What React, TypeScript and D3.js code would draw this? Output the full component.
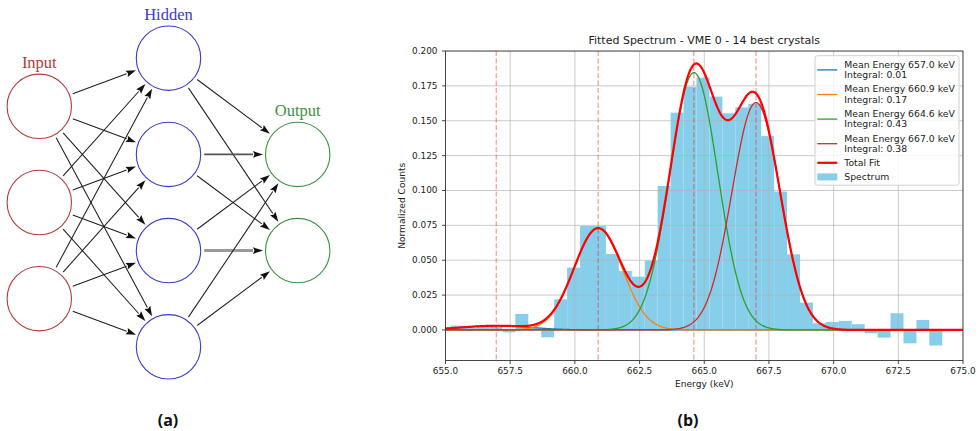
import React from 'react';
import * as d3 from 'd3';

const W = 978;
const H = 431;

// ---------- (a) neural network diagram data ----------
const layerNames = ['Input', 'Hidden', 'Output'];
const layerSizes = [3, 4, 2];
const layerColors = ['#b53b3b', '#3b3bc6', '#3a9442'];

// ---------- (b) spectrum data ----------
const binStart = 655.2;
const binWidth = 0.5;
const spectrum = [
  0.0031, 0.0015, 0.003, 0.003, -0.0017, 0.0115, 0.0017, -0.0053, 0.022, 0.0447,
  0.0746, 0.0746, 0.0545, 0.0423, 0.0382, 0.0497, 0.1032, 0.1558, 0.1744, 0.1809,
  0.1673, 0.1553, 0.1596, 0.162, 0.139, 0.0992, 0.0542, 0.0196, 0.0048, 0.0057,
  0.0065, 0.0041, -0.0024, -0.0055, 0.012, -0.0096, 0.0072, -0.0112,
];
const peakMeans = [656.96, 660.9, 664.6, 667.0];
const peakIntegrals = [0.01, 0.17, 0.43, 0.38];
const peakSigmas = [1.33, 0.93, 0.93, 0.93];
const peakColors = ['#1f77b4', '#ff7f0e', '#2ca02c', '#d62728'];
const xTicks = [655, 657.5, 660, 662.5, 665, 667.5, 670, 672.5, 675];
const yTicks = [0, 0.025, 0.05, 0.075, 0.1, 0.125, 0.15, 0.175, 0.2];
const titleText = 'Fitted Spectrum - VME 0 - 14 best crystals';
const xLabel = 'Energy (keV)';
const yLabel = 'Normalized Counts';

const SANS = 'DejaVu Sans, sans-serif';
const SERIF = 'Liberation Serif, serif';

function gauss(x: number, i: number) {
  const s = peakSigmas[i];
  const a = peakIntegrals[i] / (s * Math.sqrt(2 * Math.PI));
  return a * Math.exp(-((x - peakMeans[i]) ** 2) / (2 * s * s));
}

function Network() {
  const xL = d3.scaleLinear().domain([0, 2]).range([39.3, 297.7]);
  const r = 32.2;
  const pitch = 96.2;
  const cy = 202.5;
  const nodes = layerSizes.map((n, l) =>
    d3.range(n).map((k) => ({ x: xL(l), y: cy + (k - (n - 1) / 2) * pitch }))
  );
  const arrows: any[] = [];
  for (let l = 0; l < layerSizes.length - 1; l++) {
    nodes[l].forEach((s, si) =>
      nodes[l + 1].forEach((t, ti) => {
        const dx = t.x - s.x, dy = t.y - s.y;
        const len = Math.hypot(dx, dy);
        const ux = dx / len, uy = dy / len;
        const x1 = s.x + ux * (r + 3.5), y1 = s.y + uy * (r + 3.5);
        const x2 = t.x - ux * (r + 2.5), y2 = t.y - uy * (r + 2.5);
        const hl = 10, hw = 3.3;
        const bx = x2 - ux * hl, by = y2 - uy * hl;
        const px = -uy, py = ux;
        let stroke = '#1e1e1e', sw = 1.05;
        if (l === 1 && si === 2 && ti === 1) { stroke = '#9a9a9a'; sw = 3; }
        if (l === 1 && si === 1 && ti === 0) { stroke = '#555'; sw = 1.8; }
        arrows.push({
          key: `${l}-${si}-${ti}`, x1, y1, bx, by, stroke, sw,
          head: `${x2},${y2} ${bx + px * hw},${by + py * hw} ${x2 - ux * (hl - 1.5)},${y2 - uy * (hl - 1.5)} ${bx - px * hw},${by - py * hw}`,
        });
      })
    );
  }
  return (
    <g>
      {arrows.map((a) => (
        <g key={a.key}>
          <line x1={a.x1} y1={a.y1} x2={a.bx + (a.x1 - a.bx) * 0} y2={a.by} stroke={a.stroke} strokeWidth={a.sw} />
          <polygon points={a.head} fill="#111" />
        </g>
      ))}
      {nodes.map((layer, l) =>
        layer.map((n, k) => (
          <circle key={`${l}-${k}`} cx={n.x} cy={n.y} r={r} fill="none" stroke={layerColors[l]} strokeWidth={1.1} />
        ))
      )}
      {layerNames.map((name, l) => (
        <text key={name} x={xL(l)} y={nodes[l][0].y - r - 6.5} textAnchor="middle" fontFamily={SERIF} fontSize={16.5} fill={layerColors[l]}>
          {name}
        </text>
      ))}
    </g>
  );
}

function Spectrum() {
  const left = 445.5, right = 963, top = 51, bottom = 360.5;
  const x = d3.scaleLinear().domain([655, 675]).range([left, right]);
  const y = d3.scaleLinear().domain([-0.0219, 0.2]).range([bottom, top]);
  const xs = d3.range(0, 1001).map((i) => 655 + i * 0.02);
  const line = d3.line<[number, number]>().x((d) => x(d[0])).y((d) => y(d[1]));
  const comps = peakMeans.map((_, i) => line(xs.map((v) => [v, gauss(v, i)] as [number, number])) as string);
  const total = line(xs.map((v) => [v, d3.sum(peakMeans, (_, i) => gauss(v, i))] as [number, number])) as string;
  const lg = { x: 815, y: 55.7, w: 144, h: 129.5 };
  const tc = '#222';
  return (
    <g>
      <defs>
        <clipPath id="plotclip">
          <rect x={left} y={top} width={right - left} height={bottom - top} />
        </clipPath>
      </defs>
      <text x={(left + right) / 2} y={40.7} textAnchor="middle" dominantBaseline="central" fontFamily={SANS} fontSize={11} fill={tc}>
        {titleText}
      </text>
      <g clipPath="url(#plotclip)">
        {spectrum.map((v, i) => {
          const x0 = x(binStart + i * binWidth), x1 = x(binStart + (i + 1) * binWidth);
          return (
            <rect key={i} x={x0} width={x1 - x0} y={Math.min(y(v), y(0))} height={Math.abs(y(v) - y(0))} fill="#87ceeb" />
          );
        })}
        {xTicks.map((t) => (
          <line key={'gx' + t} x1={x(t)} x2={x(t)} y1={top} y2={bottom} stroke="#b0b0b0" strokeOpacity={0.75} strokeWidth={0.9} />
        ))}
        {yTicks.map((t) => (
          <line key={'gy' + t} x1={left} x2={right} y1={y(t)} y2={y(t)} stroke="#b0b0b0" strokeOpacity={0.75} strokeWidth={0.9} />
        ))}
        {peakMeans.map((m) => (
          <line key={'v' + m} x1={x(m)} x2={x(m)} y1={top} y2={bottom} stroke="#ff0000" strokeOpacity={0.5} strokeWidth={1} strokeDasharray="5,2.4" />
        ))}
        {comps.map((d, i) => (
          <path key={'c' + i} d={d} fill="none" stroke={peakColors[i]} strokeWidth={1.3} />
        ))}
        <path d={total} fill="none" stroke="#ff0000" strokeWidth={2.2} />
      </g>
      <rect x={left} y={top} width={right - left} height={bottom - top} fill="none" stroke="#333" strokeWidth={0.9} />
      {xTicks.map((t) => (
        <g key={'tx' + t}>
          <line x1={x(t)} x2={x(t)} y1={bottom} y2={bottom + 3.5} stroke="#333" strokeWidth={0.9} />
          <text x={x(t)} y={371} textAnchor="middle" dominantBaseline="central" fontFamily={SANS} fontSize={8.9} fill={tc}>
            {d3.format('.1f')(t)}
          </text>
        </g>
      ))}
      {yTicks.map((t) => (
        <g key={'ty' + t}>
          <line x1={left - 3.5} x2={left} y1={y(t)} y2={y(t)} stroke="#333" strokeWidth={0.9} />
          <text x={437.5} y={y(t)} textAnchor="end" dominantBaseline="central" fontFamily={SANS} fontSize={8.9} fill={tc}>
            {d3.format('.3f')(t)}
          </text>
        </g>
      ))}
      <text x={(left + right) / 2} y={384} textAnchor="middle" dominantBaseline="central" fontFamily={SANS} fontSize={9.1} fill={tc}>
        {xLabel}
      </text>
      <text transform={`translate(402.3, ${(top + bottom) / 2}) rotate(-90)`} textAnchor="middle" dominantBaseline="central" fontFamily={SANS} fontSize={9.1} fill={tc}>
        {yLabel}
      </text>
      {/* legend */}
      <rect x={lg.x} y={lg.y} width={lg.w} height={lg.h} rx={2.5} fill="#fff" fillOpacity={0.8} stroke="#cccccc" strokeWidth={0.9} />
      {peakMeans.map((m, i) => {
        const ly = 69.9 + i * 24.6;
        return (
          <g key={'lg' + i}>
            <line x1={817.3} x2={837.3} y1={ly} y2={ly} stroke={peakColors[i]} strokeWidth={1.3} />
            <text x={844.3} y={ly - 5.6} dominantBaseline="central" fontFamily={SANS} fontSize={9.3} fill={tc}>
              {`Mean Energy ${m.toFixed(1)} keV`}
            </text>
            <text x={844.3} y={ly + 4.6} dominantBaseline="central" fontFamily={SANS} fontSize={9.3} fill={tc}>
              {`Integral: ${peakIntegrals[i].toFixed(2)}`}
            </text>
          </g>
        );
      })}
      <line x1={817.3} x2={837.3} y1={162.8} y2={162.8} stroke="#ff0000" strokeWidth={2.2} />
      <text x={844.3} y={162.8} dominantBaseline="central" fontFamily={SANS} fontSize={9.3} fill={tc}>Total Fit</text>
      <rect x={817.3} y={173.4} width={20} height={7} fill="#87ceeb" />
      <text x={844.3} y={176.9} dominantBaseline="central" fontFamily={SANS} fontSize={9.3} fill={tc}>Spectrum</text>
    </g>
  );
}

export default function App() {
  return (
    <svg width={W} height={H} viewBox={`0 0 ${W} ${H}`} style={{ position: 'absolute', left: 0, top: 0, background: '#fff' }}>
      <rect width={W} height={H} fill="#fff" />
      <Network />
      <Spectrum />
      <text x={168} y={420} textAnchor="middle" dominantBaseline="central" fontFamily="Open Sans, sans-serif" fontWeight={700} fontSize={16} fill="#111">(a)</text>
      <text x={688} y={420} textAnchor="middle" dominantBaseline="central" fontFamily="Open Sans, sans-serif" fontWeight={700} fontSize={16} fill="#111">(b)</text>
    </svg>
  );
}
